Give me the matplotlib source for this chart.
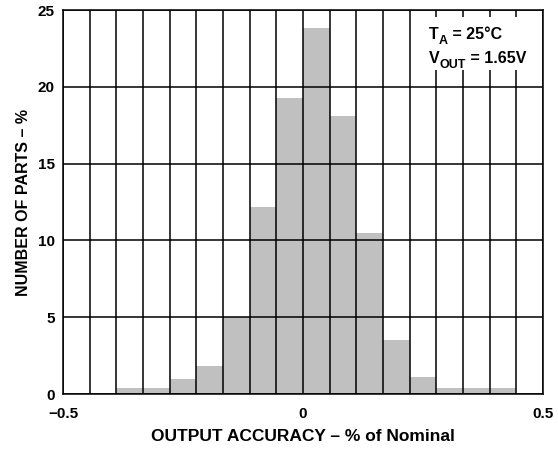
import matplotlib
matplotlib.use("Agg")
import matplotlib.pyplot as plt
import numpy as np
from matplotlib.patches import Rectangle
from matplotlib.transforms import offset_copy

plt.rcParams['font.family'] = ['Liberation Sans', 'DejaVu Sans']
plt.rcParams['font.weight'] = 'bold'

# Data: histogram of output accuracy (18 bins from -0.5 to 0.5 %)
bin_edges = np.linspace(-0.5, 0.5, 19)
percent_parts = [0, 0, 0.4, 0.4, 1.0, 1.8, 5.0, 12.2, 19.3, 23.8,
                 18.1, 10.5, 3.5, 1.1, 0.4, 0.4, 0.4, 0]
x_ticks = [-0.5, 0, 0.5]
x_tick_labels = ['\u22120.5', '0', '0.5']
y_ticks = [0, 5, 10, 15, 20, 25]

fig = plt.figure(figsize=(5.58, 4.49), dpi=100)
ax = fig.add_axes([63/558, 1-394/449, 480/558, 384/449])

widths = np.diff(bin_edges)
ax.bar(bin_edges[:-1], percent_parts, width=widths, align='edge',
       color='#c0c0c0', edgecolor='none', zorder=1)

ax.set_xlim(-0.5, 0.5)
ax.set_ylim(0, 25)
ax.set_xticks(x_ticks)
ax.set_xticklabels(x_tick_labels)
ax.set_xticks(bin_edges, minor=True)
ax.set_yticks(y_ticks)
ax.tick_params(axis='both', which='both', length=0, labelsize=11)
ax.tick_params(axis='x', pad=9)
ax.tick_params(axis='y', pad=6)

ax.grid(True, which='both', axis='x', color='black', linewidth=1.1, zorder=2)
ax.grid(True, which='major', axis='y', color='black', linewidth=1.1, zorder=2)
ax.set_axisbelow(False)
for s in ax.spines.values():
    s.set_linewidth(1.1)
    s.set_zorder(5)

ax.set_xlabel('OUTPUT ACCURACY \u2013 % of Nominal', fontsize=12.5, fontweight='bold', labelpad=6)
ax.set_ylabel('NUMBER OF PARTS \u2013 %', fontsize=11.5, fontweight='bold', labelpad=5)

# annotation box
ax.add_patch(Rectangle((0.744, 0.844), 0.254, 0.138, transform=ax.transAxes,
                       facecolor='white', edgecolor='none', zorder=3))

renderer = fig.canvas.get_renderer()


def rich_text(x, y, pieces):
    """pieces: list of (string, fontsize, dy_points)"""
    dx = 0.0
    for s, size, dy in pieces:
        tr = offset_copy(ax.transAxes, fig=fig, x=dx, y=dy, units='points')
        t = ax.text(x, y, s, transform=tr, fontsize=size, fontweight='bold',
                    ha='left', va='baseline', zorder=4)
        w = t.get_window_extent(renderer).width * 72.0 / fig.dpi
        dx += w


rich_text(0.763, 0.9245, [('T', 11.5, 0), ('A', 9, -3.5), (' = 25\u00b0C', 11.5, 0)])
rich_text(0.763, 0.862, [('V', 11.5, 0), ('OUT', 9, -3.5), (' = 1.65V', 11.5, 0)])

fig.savefig('out.png', dpi=100)
